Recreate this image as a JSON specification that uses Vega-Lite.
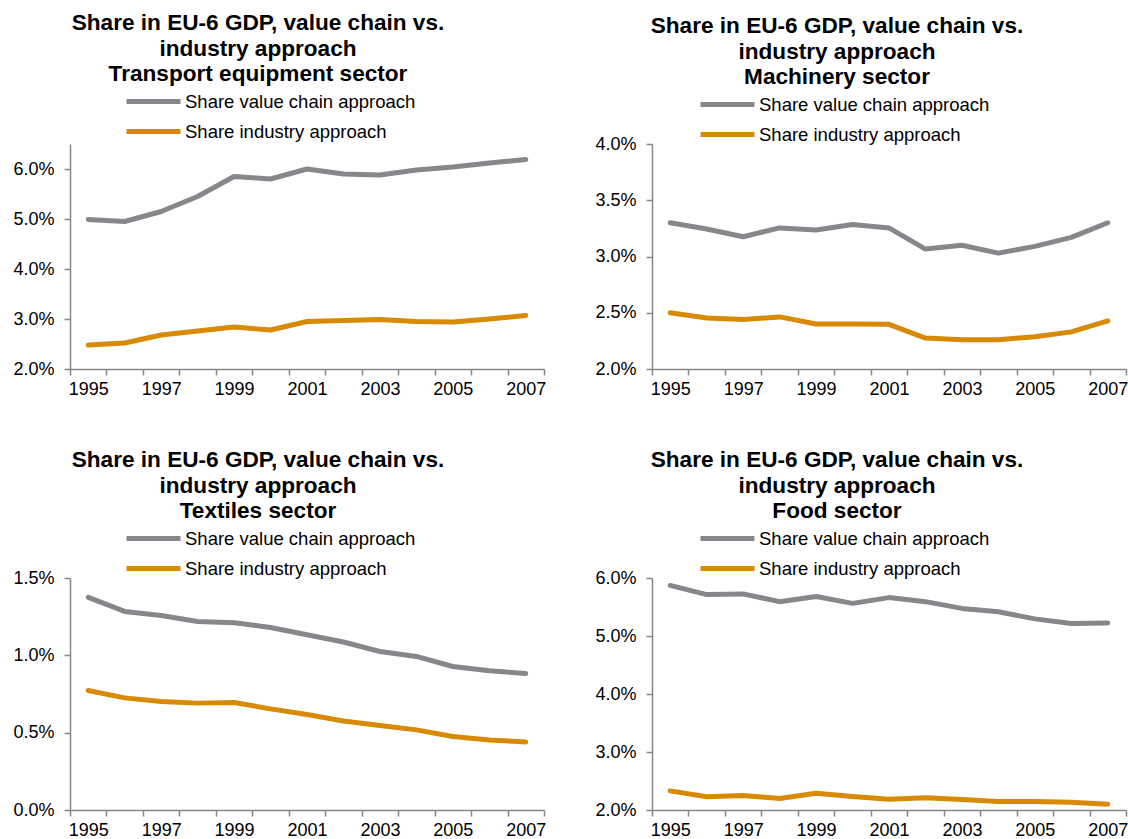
{
  "$schema": "https://vega.github.io/schema/vega-lite/v6.json",
  "padding": {"left": 12, "top": 12, "right": 0, "bottom": 0},
  "background": "white",
  "data": {"values": [
    {"sector": "Transport", "year": 1995, "series": "Share value chain approach", "value": 0.0499},
    {"sector": "Transport", "year": 1996, "series": "Share value chain approach", "value": 0.0495},
    {"sector": "Transport", "year": 1997, "series": "Share value chain approach", "value": 0.0515},
    {"sector": "Transport", "year": 1998, "series": "Share value chain approach", "value": 0.0545},
    {"sector": "Transport", "year": 1999, "series": "Share value chain approach", "value": 0.0585},
    {"sector": "Transport", "year": 2000, "series": "Share value chain approach", "value": 0.0580},
    {"sector": "Transport", "year": 2001, "series": "Share value chain approach", "value": 0.0600},
    {"sector": "Transport", "year": 2002, "series": "Share value chain approach", "value": 0.0590},
    {"sector": "Transport", "year": 2003, "series": "Share value chain approach", "value": 0.0588},
    {"sector": "Transport", "year": 2004, "series": "Share value chain approach", "value": 0.0598},
    {"sector": "Transport", "year": 2005, "series": "Share value chain approach", "value": 0.0604},
    {"sector": "Transport", "year": 2006, "series": "Share value chain approach", "value": 0.0612},
    {"sector": "Transport", "year": 2007, "series": "Share value chain approach", "value": 0.0619},
    {"sector": "Transport", "year": 1995, "series": "Share industry approach", "value": 0.0248},
    {"sector": "Transport", "year": 1996, "series": "Share industry approach", "value": 0.0252},
    {"sector": "Transport", "year": 1997, "series": "Share industry approach", "value": 0.0268},
    {"sector": "Transport", "year": 1998, "series": "Share industry approach", "value": 0.0276},
    {"sector": "Transport", "year": 1999, "series": "Share industry approach", "value": 0.0284},
    {"sector": "Transport", "year": 2000, "series": "Share industry approach", "value": 0.0278},
    {"sector": "Transport", "year": 2001, "series": "Share industry approach", "value": 0.0295},
    {"sector": "Transport", "year": 2002, "series": "Share industry approach", "value": 0.0297},
    {"sector": "Transport", "year": 2003, "series": "Share industry approach", "value": 0.0299},
    {"sector": "Transport", "year": 2004, "series": "Share industry approach", "value": 0.0295},
    {"sector": "Transport", "year": 2005, "series": "Share industry approach", "value": 0.0294},
    {"sector": "Transport", "year": 2006, "series": "Share industry approach", "value": 0.0300},
    {"sector": "Transport", "year": 2007, "series": "Share industry approach", "value": 0.0307},
    {"sector": "Machinery", "year": 1995, "series": "Share value chain approach", "value": 0.0330},
    {"sector": "Machinery", "year": 1996, "series": "Share value chain approach", "value": 0.03245},
    {"sector": "Machinery", "year": 1997, "series": "Share value chain approach", "value": 0.03176},
    {"sector": "Machinery", "year": 1998, "series": "Share value chain approach", "value": 0.03254},
    {"sector": "Machinery", "year": 1999, "series": "Share value chain approach", "value": 0.03236},
    {"sector": "Machinery", "year": 2000, "series": "Share value chain approach", "value": 0.03284},
    {"sector": "Machinery", "year": 2001, "series": "Share value chain approach", "value": 0.03254},
    {"sector": "Machinery", "year": 2002, "series": "Share value chain approach", "value": 0.03066},
    {"sector": "Machinery", "year": 2003, "series": "Share value chain approach", "value": 0.0310},
    {"sector": "Machinery", "year": 2004, "series": "Share value chain approach", "value": 0.0303},
    {"sector": "Machinery", "year": 2005, "series": "Share value chain approach", "value": 0.0309},
    {"sector": "Machinery", "year": 2006, "series": "Share value chain approach", "value": 0.0317},
    {"sector": "Machinery", "year": 2007, "series": "Share value chain approach", "value": 0.0330},
    {"sector": "Machinery", "year": 1995, "series": "Share industry approach", "value": 0.0250},
    {"sector": "Machinery", "year": 1996, "series": "Share industry approach", "value": 0.02454},
    {"sector": "Machinery", "year": 1997, "series": "Share industry approach", "value": 0.0244},
    {"sector": "Machinery", "year": 1998, "series": "Share industry approach", "value": 0.02463},
    {"sector": "Machinery", "year": 1999, "series": "Share industry approach", "value": 0.0240},
    {"sector": "Machinery", "year": 2000, "series": "Share industry approach", "value": 0.0240},
    {"sector": "Machinery", "year": 2001, "series": "Share industry approach", "value": 0.02397},
    {"sector": "Machinery", "year": 2002, "series": "Share industry approach", "value": 0.02275},
    {"sector": "Machinery", "year": 2003, "series": "Share industry approach", "value": 0.0226},
    {"sector": "Machinery", "year": 2004, "series": "Share industry approach", "value": 0.0226},
    {"sector": "Machinery", "year": 2005, "series": "Share industry approach", "value": 0.02287},
    {"sector": "Machinery", "year": 2006, "series": "Share industry approach", "value": 0.0233},
    {"sector": "Machinery", "year": 2007, "series": "Share industry approach", "value": 0.02427},
    {"sector": "Textiles", "year": 1995, "series": "Share value chain approach", "value": 0.01375},
    {"sector": "Textiles", "year": 1996, "series": "Share value chain approach", "value": 0.01284},
    {"sector": "Textiles", "year": 1997, "series": "Share value chain approach", "value": 0.01258},
    {"sector": "Textiles", "year": 1998, "series": "Share value chain approach", "value": 0.01219},
    {"sector": "Textiles", "year": 1999, "series": "Share value chain approach", "value": 0.01211},
    {"sector": "Textiles", "year": 2000, "series": "Share value chain approach", "value": 0.0118},
    {"sector": "Textiles", "year": 2001, "series": "Share value chain approach", "value": 0.01133},
    {"sector": "Textiles", "year": 2002, "series": "Share value chain approach", "value": 0.01086},
    {"sector": "Textiles", "year": 2003, "series": "Share value chain approach", "value": 0.01025},
    {"sector": "Textiles", "year": 2004, "series": "Share value chain approach", "value": 0.00993},
    {"sector": "Textiles", "year": 2005, "series": "Share value chain approach", "value": 0.00928},
    {"sector": "Textiles", "year": 2006, "series": "Share value chain approach", "value": 0.0090},
    {"sector": "Textiles", "year": 2007, "series": "Share value chain approach", "value": 0.00883},
    {"sector": "Textiles", "year": 1995, "series": "Share industry approach", "value": 0.00773},
    {"sector": "Textiles", "year": 1996, "series": "Share industry approach", "value": 0.00725},
    {"sector": "Textiles", "year": 1997, "series": "Share industry approach", "value": 0.00701},
    {"sector": "Textiles", "year": 1998, "series": "Share industry approach", "value": 0.00691},
    {"sector": "Textiles", "year": 1999, "series": "Share industry approach", "value": 0.00695},
    {"sector": "Textiles", "year": 2000, "series": "Share industry approach", "value": 0.00654},
    {"sector": "Textiles", "year": 2001, "series": "Share industry approach", "value": 0.00617},
    {"sector": "Textiles", "year": 2002, "series": "Share industry approach", "value": 0.00576},
    {"sector": "Textiles", "year": 2003, "series": "Share industry approach", "value": 0.00546},
    {"sector": "Textiles", "year": 2004, "series": "Share industry approach", "value": 0.00518},
    {"sector": "Textiles", "year": 2005, "series": "Share industry approach", "value": 0.00475},
    {"sector": "Textiles", "year": 2006, "series": "Share industry approach", "value": 0.00453},
    {"sector": "Textiles", "year": 2007, "series": "Share industry approach", "value": 0.0044},
    {"sector": "Food", "year": 1995, "series": "Share value chain approach", "value": 0.05872},
    {"sector": "Food", "year": 1996, "series": "Share value chain approach", "value": 0.05714},
    {"sector": "Food", "year": 1997, "series": "Share value chain approach", "value": 0.05726},
    {"sector": "Food", "year": 1998, "series": "Share value chain approach", "value": 0.05592},
    {"sector": "Food", "year": 1999, "series": "Share value chain approach", "value": 0.0568},
    {"sector": "Food", "year": 2000, "series": "Share value chain approach", "value": 0.05563},
    {"sector": "Food", "year": 2001, "series": "Share value chain approach", "value": 0.05662},
    {"sector": "Food", "year": 2002, "series": "Share value chain approach", "value": 0.05592},
    {"sector": "Food", "year": 2003, "series": "Share value chain approach", "value": 0.05476},
    {"sector": "Food", "year": 2004, "series": "Share value chain approach", "value": 0.05418},
    {"sector": "Food", "year": 2005, "series": "Share value chain approach", "value": 0.05295},
    {"sector": "Food", "year": 2006, "series": "Share value chain approach", "value": 0.05214},
    {"sector": "Food", "year": 2007, "series": "Share value chain approach", "value": 0.05225},
    {"sector": "Food", "year": 1995, "series": "Share industry approach", "value": 0.0233},
    {"sector": "Food", "year": 1996, "series": "Share industry approach", "value": 0.02227},
    {"sector": "Food", "year": 1997, "series": "Share industry approach", "value": 0.0225},
    {"sector": "Food", "year": 1998, "series": "Share industry approach", "value": 0.02198},
    {"sector": "Food", "year": 1999, "series": "Share industry approach", "value": 0.0229},
    {"sector": "Food", "year": 2000, "series": "Share industry approach", "value": 0.02233},
    {"sector": "Food", "year": 2001, "series": "Share industry approach", "value": 0.02186},
    {"sector": "Food", "year": 2002, "series": "Share industry approach", "value": 0.0221},
    {"sector": "Food", "year": 2003, "series": "Share industry approach", "value": 0.0218},
    {"sector": "Food", "year": 2004, "series": "Share industry approach", "value": 0.02146},
    {"sector": "Food", "year": 2005, "series": "Share industry approach", "value": 0.02146},
    {"sector": "Food", "year": 2006, "series": "Share industry approach", "value": 0.02134},
    {"sector": "Food", "year": 2007, "series": "Share industry approach", "value": 0.0210}
  ]},
  "vconcat": [
    {
      "hconcat": [
        {
          "width": 474, "height": 225,
          "title": {"text": ["Share in EU-6 GDP, value chain vs.", "industry approach", "Transport equipment sector"], "dx": -49},
          "transform": [{"filter": "datum.sector == 'Transport'"}],
          "mark": {"type": "line", "strokeWidth": 5, "strokeCap": "round", "strokeJoin": "round"},
          "encoding": {
            "x": {"field": "year", "type": "ordinal", "scale": {"type": "band", "paddingInner": 0, "paddingOuter": 0}},
            "y": {"field": "value", "type": "quantitative", "scale": {"domain": [0.02, 0.065], "nice": false, "zero": false}, "axis": {"values": [0.02, 0.03, 0.04, 0.05, 0.06], "format": ".1%"}},
            "color": {"field": "series", "type": "nominal", "scale": {"domain": ["Share value chain approach", "Share industry approach"], "range": ["#87878b", "#d98a03"]}, "legend": {"legendX": 66, "legendY": -60}}
          }
        },
        {
          "width": 474, "height": 225,
          "title": {"text": ["Share in EU-6 GDP, value chain vs.", "industry approach", "Machinery sector"], "dx": -52},
          "transform": [{"filter": "datum.sector == 'Machinery'"}],
          "mark": {"type": "line", "strokeWidth": 5, "strokeCap": "round", "strokeJoin": "round"},
          "encoding": {
            "x": {"field": "year", "type": "ordinal", "scale": {"type": "band", "paddingInner": 0, "paddingOuter": 0}},
            "y": {"field": "value", "type": "quantitative", "scale": {"domain": [0.02, 0.04], "nice": false, "zero": false}, "axis": {"values": [0.02, 0.025, 0.03, 0.035, 0.04], "format": ".1%"}},
            "color": {"field": "series", "type": "nominal", "scale": {"domain": ["Share value chain approach", "Share industry approach"], "range": ["#87878b", "#d98a03"]}, "legend": {"legendX": 58, "legendY": -57}}
          }
        }
      ],
      "spacing": 48,
      "resolve": {"scale": {"color": "independent", "y": "independent", "x": "independent"}, "legend": {"color": "independent"}}
    },
    {
      "hconcat": [
        {
          "width": 474, "height": 232,
          "title": {"text": ["Share in EU-6 GDP, value chain vs.", "industry approach", "Textiles sector"], "dx": -49},
          "transform": [{"filter": "datum.sector == 'Textiles'"}],
          "mark": {"type": "line", "strokeWidth": 5, "strokeCap": "round", "strokeJoin": "round"},
          "encoding": {
            "x": {"field": "year", "type": "ordinal", "scale": {"type": "band", "paddingInner": 0, "paddingOuter": 0}},
            "y": {"field": "value", "type": "quantitative", "scale": {"domain": [0, 0.015], "nice": false, "zero": false}, "axis": {"values": [0, 0.005, 0.01, 0.015], "format": ".1%"}},
            "color": {"field": "series", "type": "nominal", "scale": {"domain": ["Share value chain approach", "Share industry approach"], "range": ["#87878b", "#d98a03"]}, "legend": {"legendX": 66, "legendY": -57}}
          }
        },
        {
          "width": 474, "height": 232,
          "title": {"text": ["Share in EU-6 GDP, value chain vs.", "industry approach", "Food sector"], "dx": -52},
          "transform": [{"filter": "datum.sector == 'Food'"}],
          "mark": {"type": "line", "strokeWidth": 5, "strokeCap": "round", "strokeJoin": "round"},
          "encoding": {
            "x": {"field": "year", "type": "ordinal", "scale": {"type": "band", "paddingInner": 0, "paddingOuter": 0}},
            "y": {"field": "value", "type": "quantitative", "scale": {"domain": [0.02, 0.06], "nice": false, "zero": false}, "axis": {"values": [0.02, 0.03, 0.04, 0.05, 0.06], "format": ".1%"}},
            "color": {"field": "series", "type": "nominal", "scale": {"domain": ["Share value chain approach", "Share industry approach"], "range": ["#87878b", "#d98a03"]}, "legend": {"legendX": 58, "legendY": -57}}
          }
        }
      ],
      "spacing": 48,
      "resolve": {"scale": {"color": "independent", "y": "independent", "x": "independent"}, "legend": {"color": "independent"}}
    }
  ],
  "spacing": 51,
  "resolve": {"scale": {"color": "independent"}, "legend": {"color": "independent"}},
  "config": {
    "view": {"stroke": null},
    "font": "Liberation Sans",
    "title": {"font": "Liberation Sans", "fontSize": 22.6, "fontWeight": "bold", "color": "#000000", "lineHeight": 25.5, "anchor": "middle", "offset": -2},
    "axis": {"grid": false, "title": null, "domainColor": "#868686", "domainWidth": 1.5, "tickColor": "#868686", "tickWidth": 1.5, "tickSize": 6, "labelFont": "Liberation Sans", "labelFontSize": 18, "labelColor": "#000000"},
    "axisX": {"labelAngle": 0, "tickBand": "extent", "labelPadding": 5, "labelExpr": "datum.value % 2 == 1 ? datum.label : ''"},
    "axisY": {"labelPadding": 10},
    "legend": {"orient": "none", "title": null, "direction": "vertical", "padding": 0, "rowPadding": 2, "labelFont": "Liberation Sans", "labelFontSize": 18.5, "labelColor": "#000000", "labelOffset": 14, "symbolType": "M-1.8,0H1.8", "symbolSize": 900, "symbolStrokeWidth": 5, "labelLimit": 400}
  }
}
